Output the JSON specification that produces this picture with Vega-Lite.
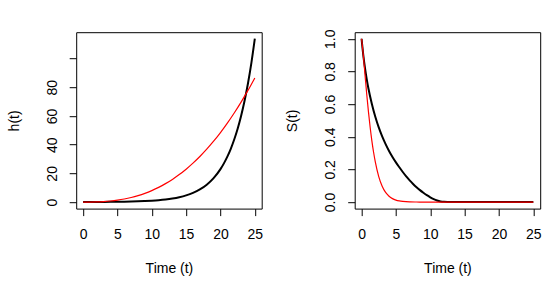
{
  "$schema": "https://vega.github.io/schema/vega-lite/v6.json",
  "padding": {"left": 6.2, "top": 28.2, "right": 0, "bottom": 0},
  "background": "white",
  "bounds": "flush",
  "spacing": 92.5,
  "config": {
    "view": {"stroke": "black", "strokeWidth": 1},
    "font": "Liberation Sans",
    "axis": {
      "domain": false, "grid": false, "ticks": true, "tickColor": "black", "tickSize": 7, "tickWidth": 1,
      "labelColor": "black", "labelFont": "Liberation Sans", "labelFontSize": 14,
      "titleFont": "Liberation Sans", "titleFontSize": 14, "titleFontWeight": "normal", "titleColor": "black",
      "labelFlush": false, "labelOverlap": false
    },
    "axisX": {"labelBaseline": "alphabetic", "labelPadding": 23, "titleBaseline": "alphabetic", "titleY": 64},
    "axisY": {"labelAngle": -90, "labelAlign": "center", "labelBaseline": "alphabetic", "labelPadding": 13,
      "titleAngle": -90, "titleBaseline": "alphabetic", "titleAlign": "center", "titleX": -58, "titleY": 88.2}
  },
  "datasets": {
    "hazard": [
      {"t": 0, "curve": "c1", "value": 0.04}, {"t": 1, "curve": "c1", "value": 0.05}, {"t": 2, "curve": "c1", "value": 0.07},
      {"t": 3, "curve": "c1", "value": 0.10}, {"t": 4, "curve": "c1", "value": 0.14}, {"t": 5, "curve": "c1", "value": 0.19},
      {"t": 6, "curve": "c1", "value": 0.26}, {"t": 7, "curve": "c1", "value": 0.36}, {"t": 8, "curve": "c1", "value": 0.49},
      {"t": 9, "curve": "c1", "value": 0.68}, {"t": 10, "curve": "c1", "value": 0.94}, {"t": 11, "curve": "c1", "value": 1.29},
      {"t": 12, "curve": "c1", "value": 1.78}, {"t": 13, "curve": "c1", "value": 2.45}, {"t": 14, "curve": "c1", "value": 3.37},
      {"t": 15, "curve": "c1", "value": 4.64}, {"t": 16, "curve": "c1", "value": 6.39}, {"t": 17, "curve": "c1", "value": 8.80},
      {"t": 18, "curve": "c1", "value": 12.12}, {"t": 19, "curve": "c1", "value": 16.68}, {"t": 20, "curve": "c1", "value": 22.97},
      {"t": 20.5, "curve": "c1", "value": 26.96}, {"t": 21, "curve": "c1", "value": 31.64}, {"t": 21.5, "curve": "c1", "value": 37.13},
      {"t": 22, "curve": "c1", "value": 43.58}, {"t": 22.5, "curve": "c1", "value": 51.13}, {"t": 23, "curve": "c1", "value": 60.01},
      {"t": 23.5, "curve": "c1", "value": 70.42}, {"t": 24, "curve": "c1", "value": 82.63}, {"t": 24.5, "curve": "c1", "value": 96.97},
      {"t": 25, "curve": "c1", "value": 113.8},
      {"t": 0, "curve": "c2", "value": 0.0}, {"t": 1, "curve": "c2", "value": 0.02}, {"t": 2, "curve": "c2", "value": 0.12},
      {"t": 3, "curve": "c2", "value": 0.35}, {"t": 4, "curve": "c2", "value": 0.74}, {"t": 5, "curve": "c2", "value": 1.32},
      {"t": 6, "curve": "c2", "value": 2.12}, {"t": 7, "curve": "c2", "value": 3.16}, {"t": 8, "curve": "c2", "value": 4.47},
      {"t": 9, "curve": "c2", "value": 6.07}, {"t": 10, "curve": "c2", "value": 7.99}, {"t": 11, "curve": "c2", "value": 10.23},
      {"t": 12, "curve": "c2", "value": 12.84}, {"t": 13, "curve": "c2", "value": 15.80}, {"t": 14, "curve": "c2", "value": 19.15},
      {"t": 15, "curve": "c2", "value": 22.92}, {"t": 16, "curve": "c2", "value": 27.11}, {"t": 17, "curve": "c2", "value": 31.73},
      {"t": 18, "curve": "c2", "value": 36.82}, {"t": 19, "curve": "c2", "value": 42.38}, {"t": 20, "curve": "c2", "value": 48.42},
      {"t": 21, "curve": "c2", "value": 54.98}, {"t": 22, "curve": "c2", "value": 62.04}, {"t": 23, "curve": "c2", "value": 69.64},
      {"t": 24, "curve": "c2", "value": 77.79}, {"t": 25, "curve": "c2", "value": 86.5}
    ],
    "survival": [
      {"t": 0, "curve": "c1", "value": 1.0}, {"t": 0.25, "curve": "c1", "value": 0.90}, {"t": 0.5, "curve": "c1", "value": 0.82},
      {"t": 0.75, "curve": "c1", "value": 0.753}, {"t": 1, "curve": "c1", "value": 0.695}, {"t": 1.5, "curve": "c1", "value": 0.60},
      {"t": 2, "curve": "c1", "value": 0.522}, {"t": 2.5, "curve": "c1", "value": 0.457}, {"t": 3, "curve": "c1", "value": 0.402},
      {"t": 3.5, "curve": "c1", "value": 0.355}, {"t": 4, "curve": "c1", "value": 0.313}, {"t": 4.5, "curve": "c1", "value": 0.276},
      {"t": 5, "curve": "c1", "value": 0.243}, {"t": 5.5, "curve": "c1", "value": 0.213}, {"t": 6, "curve": "c1", "value": 0.184},
      {"t": 6.5, "curve": "c1", "value": 0.157}, {"t": 7, "curve": "c1", "value": 0.133}, {"t": 7.5, "curve": "c1", "value": 0.111},
      {"t": 8, "curve": "c1", "value": 0.091}, {"t": 8.5, "curve": "c1", "value": 0.073}, {"t": 9, "curve": "c1", "value": 0.057},
      {"t": 9.5, "curve": "c1", "value": 0.042}, {"t": 10, "curve": "c1", "value": 0.029}, {"t": 10.5, "curve": "c1", "value": 0.018},
      {"t": 11, "curve": "c1", "value": 0.0095}, {"t": 11.5, "curve": "c1", "value": 0.004}, {"t": 12, "curve": "c1", "value": 0.0012},
      {"t": 12.5, "curve": "c1", "value": 0.0002}, {"t": 13, "curve": "c1", "value": 0.0}, {"t": 15, "curve": "c1", "value": 0.0},
      {"t": 17, "curve": "c1", "value": 0.0}, {"t": 19, "curve": "c1", "value": 0.0}, {"t": 21, "curve": "c1", "value": 0.0},
      {"t": 23, "curve": "c1", "value": 0.0}, {"t": 25, "curve": "c1", "value": 0.0},
      {"t": 0, "curve": "c2", "value": 1.0}, {"t": 0.25, "curve": "c2", "value": 0.901}, {"t": 0.5, "curve": "c2", "value": 0.780},
      {"t": 0.75, "curve": "c2", "value": 0.662}, {"t": 1, "curve": "c2", "value": 0.554}, {"t": 1.25, "curve": "c2", "value": 0.458},
      {"t": 1.5, "curve": "c2", "value": 0.375}, {"t": 1.75, "curve": "c2", "value": 0.305}, {"t": 2, "curve": "c2", "value": 0.246},
      {"t": 2.5, "curve": "c2", "value": 0.156}, {"t": 3, "curve": "c2", "value": 0.097}, {"t": 3.5, "curve": "c2", "value": 0.059},
      {"t": 4, "curve": "c2", "value": 0.036}, {"t": 4.5, "curve": "c2", "value": 0.021}, {"t": 5, "curve": "c2", "value": 0.012},
      {"t": 5.5, "curve": "c2", "value": 0.007}, {"t": 6, "curve": "c2", "value": 0.004}, {"t": 7, "curve": "c2", "value": 0.001},
      {"t": 8, "curve": "c2", "value": 0.0003}, {"t": 9, "curve": "c2", "value": 0.0}, {"t": 11, "curve": "c2", "value": 0.0},
      {"t": 13, "curve": "c2", "value": 0.0}, {"t": 15, "curve": "c2", "value": 0.0}, {"t": 17, "curve": "c2", "value": 0.0},
      {"t": 19, "curve": "c2", "value": 0.0}, {"t": 21, "curve": "c2", "value": 0.0}, {"t": 23, "curve": "c2", "value": 0.0},
      {"t": 25, "curve": "c2", "value": 0.0}
    ]
  },
  "hconcat": [
    {
      "width": 185.5, "height": 176.4,
      "data": {"name": "hazard"},
      "mark": {"type": "line", "interpolate": "monotone", "clip": true},
      "encoding": {
        "x": {"field": "t", "type": "quantitative", "scale": {"domain": [-1, 26], "nice": false, "zero": false},
          "axis": {"values": [0, 5, 10, 15, 20, 25], "title": "Time (t)"}},
        "y": {"field": "value", "type": "quantitative", "scale": {"domain": [-4.55, 118.35], "nice": false, "zero": false},
          "axis": {"values": [0, 20, 40, 60, 80, 100], "labelExpr": "datum.value == 100 ? '' : datum.label", "title": "h(t)"}},
        "color": {"field": "curve", "type": "nominal", "scale": {"domain": ["c1", "c2"], "range": ["black", "red"]}, "legend": null},
        "strokeWidth": {"field": "curve", "type": "nominal", "scale": {"domain": ["c1", "c2"], "range": [2, 1.2]}, "legend": null}
      }
    },
    {
      "width": 185.5, "height": 176.4,
      "data": {"name": "survival"},
      "mark": {"type": "line", "interpolate": "monotone", "clip": true},
      "encoding": {
        "x": {"field": "t", "type": "quantitative", "scale": {"domain": [-1, 26], "nice": false, "zero": false},
          "axis": {"values": [0, 5, 10, 15, 20, 25], "title": "Time (t)"}},
        "y": {"field": "value", "type": "quantitative", "scale": {"domain": [-0.04, 1.04], "nice": false, "zero": false},
          "axis": {"values": [0, 0.2, 0.4, 0.6, 0.8, 1.0], "format": ".1f", "title": "S(t)"}},
        "color": {"field": "curve", "type": "nominal", "scale": {"domain": ["c1", "c2"], "range": ["black", "red"]}, "legend": null},
        "strokeWidth": {"field": "curve", "type": "nominal", "scale": {"domain": ["c1", "c2"], "range": [2, 1.2]}, "legend": null}
      }
    }
  ]
}
